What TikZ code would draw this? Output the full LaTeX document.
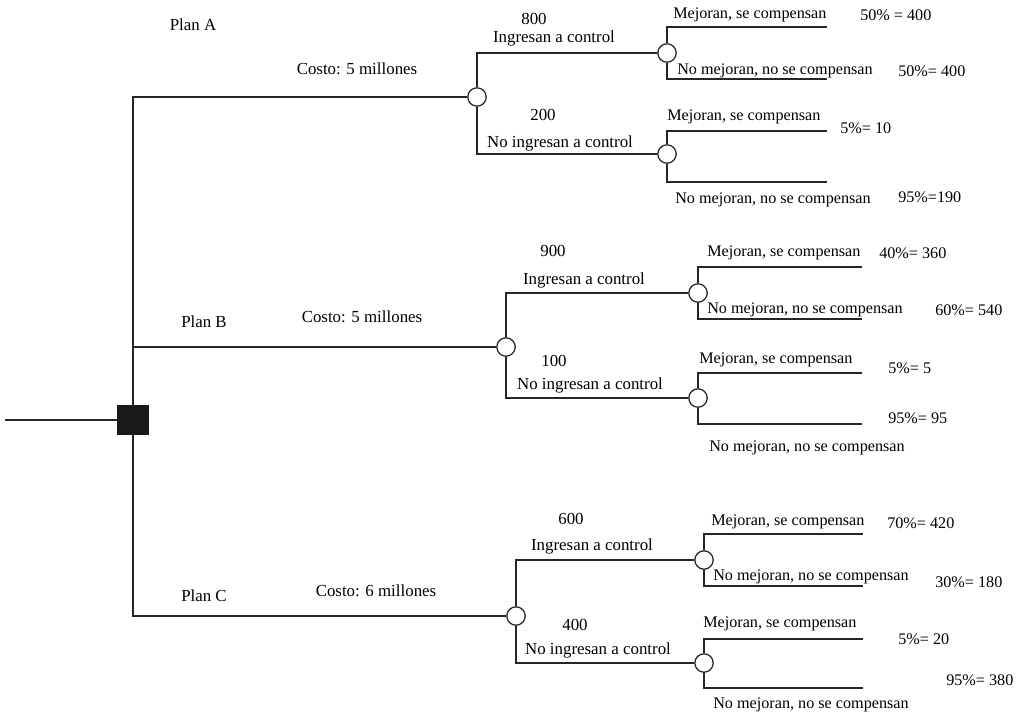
\documentclass[tikz,border=0pt]{standalone}
\usepackage{fontspec}
\setmainfont{Liberation Serif}

\begin{document}
\begin{tikzpicture}[x=0.025cm, y=-0.025cm]
 	\tikzstyle{chance}=[circle, minimum size = 4.6mm, inner sep=0pt, draw=black!85, fill=white, line width=0.9pt]
 	\tikzstyle{decision}=[rectangle, minimum width = 7.8mm, minimum height = 7.5mm, inner sep=0pt, fill=black!90]
 	\tikzstyle{connect}=[line width=1.2pt, draw=black!85]
 	\tikzstyle{elbow}=[to path={|- (\tikztotarget)}]
 	\tikzstyle{txt}=[font=\fontsize{12}{14}\selectfont, inner sep=0pt]
 	\tikzstyle{lbl}=[font=\fontsize{11.5}{13}\selectfont, inner sep=0pt, anchor=west]
 	\useasboundingbox (0,0) rectangle (1029,723);
 	% decision and chance nodes
 	\coordinate (start) at (5,420);
 	\node[decision] (dec) at (133,420) {};
 	\node[chance] (cA) at (477,97) {};
 	\node[chance] (cB) at (506,347) {};
 	\node[chance] (cC) at (516,616) {};
 	\node[chance] (A1) at (667,53) {};
 	\node[chance] (A2) at (667,154) {};
 	\node[chance] (B1) at (698,293) {};
 	\node[chance] (B2) at (698,398) {};
 	\node[chance] (C1) at (704,560) {};
 	\node[chance] (C2) at (704,663) {};
 	% branch ends
 	\coordinate (A1m) at (827,27);  \coordinate (A1n) at (827,79);
 	\coordinate (A2m) at (827,131); \coordinate (A2n) at (827,182);
 	\coordinate (B1m) at (862,267); \coordinate (B1n) at (862,319);
 	\coordinate (B2m) at (862,373); \coordinate (B2n) at (862,424);
 	\coordinate (C1m) at (863,534); \coordinate (C1n) at (863,586);
 	\coordinate (C2m) at (863,639); \coordinate (C2n) at (863,688);
 	\path (start) edge [connect] (dec)
 	(dec) edge [connect, elbow] (cA)
 	(dec) edge [connect, elbow] (cB)
 	(dec) edge [connect, elbow] (cC)
 	(cA) edge [connect, elbow] (A1)
 	(cA) edge [connect, elbow] (A2)
 	(cB) edge [connect, elbow] (B1)
 	(cB) edge [connect, elbow] (B2)
 	(cC) edge [connect, elbow] (C1)
 	(cC) edge [connect, elbow] (C2)
 	(A1) edge [connect, elbow] (A1m)
 	(A1) edge [connect, elbow] (A1n)
 	(A2) edge [connect, elbow] (A2m)
 	(A2) edge [connect, elbow] (A2n)
 	(B1) edge [connect, elbow] (B1m)
 	(B1) edge [connect, elbow] (B1n)
 	(B2) edge [connect, elbow] (B2m)
 	(B2) edge [connect, elbow] (B2n)
 	(C1) edge [connect, elbow] (C1m)
 	(C1) edge [connect, elbow] (C1n)
 	(C2) edge [connect, elbow] (C2m)
 	(C2) edge [connect, elbow] (C2n);
 	% plan A
 	\node[txt] (planA) at (193,25) {Plan A};
 	\node[txt] (costA) at (357,69) {Costo: 5 millones};
 	\node[txt] (nA1) at (534,19) {800};
 	\node[txt] (inA) at (554,38) {Ingresan a control};
 	\node[txt] (nA2) at (543,115) {200};
 	\node[txt] (noA) at (560,143) {No ingresan a control};
 	\node[lbl] (mA1) at (673,15) {Mejoran, se compensan};
 	\node[lbl] (xA1) at (677,71) {No mejoran, no se compensan};
 	\node[lbl] (mA2) at (667,117) {Mejoran, se compensan};
 	\node[lbl] (xA2) at (675,200) {No mejoran, no se compensan};
 	\node[lbl] (pA1) at (860,15) {50\% = 400};
 	\node[lbl] (pA2) at (898,71) {50\%= 400};
 	\node[lbl] (pA3) at (840,128) {5\%= 10};
 	\node[lbl] (pA4) at (898,197) {95\%=190};
 	% plan B
 	\node[txt] (planB) at (204,322) {Plan B};
 	\node[txt] (costB) at (362,317) {Costo: 5 millones};
 	\node[txt] (nB1) at (553,251) {900};
 	\node[txt] (inB) at (584,280) {Ingresan a control};
 	\node[txt] (nB2) at (554,361) {100};
 	\node[txt] (noB) at (590,385) {No ingresan a control};
 	\node[lbl] (mB1) at (707,253) {Mejoran, se compensan};
 	\node[lbl] (xB1) at (707,310) {No mejoran, no se compensan};
 	\node[lbl] (mB2) at (699,360) {Mejoran, se compensan};
 	\node[lbl] (xB2) at (709,448) {No mejoran, no se compensan};
 	\node[lbl] (pB1) at (879,253) {40\%= 360};
 	\node[lbl] (pB2) at (935,310) {60\%= 540};
 	\node[lbl] (pB3) at (888,368) {5\%= 5};
 	\node[lbl] (pB4) at (888,418) {95\%= 95};
 	% plan C
 	\node[txt] (planC) at (204,596) {Plan C};
 	\node[txt] (costC) at (376,591) {Costo: 6 millones};
 	\node[txt] (nC1) at (571,519) {600};
 	\node[txt] (inC) at (592,546) {Ingresan a control};
 	\node[txt] (nC2) at (575,625) {400};
 	\node[txt] (noC) at (598,650) {No ingresan a control};
 	\node[lbl] (mC1) at (711,522) {Mejoran, se compensan};
 	\node[lbl] (xC1) at (713,577) {No mejoran, no se compensan};
 	\node[lbl] (mC2) at (703,624) {Mejoran, se compensan};
 	\node[lbl] (xC2) at (713,705) {No mejoran, no se compensan};
 	\node[lbl] (pC1) at (887,523) {70\%= 420};
 	\node[lbl] (pC2) at (935,582) {30\%= 180};
 	\node[lbl] (pC3) at (898,639) {5\%= 20};
 	\node[lbl] (pC4) at (946,680) {95\%= 380};
\end{tikzpicture}
\end{document}
